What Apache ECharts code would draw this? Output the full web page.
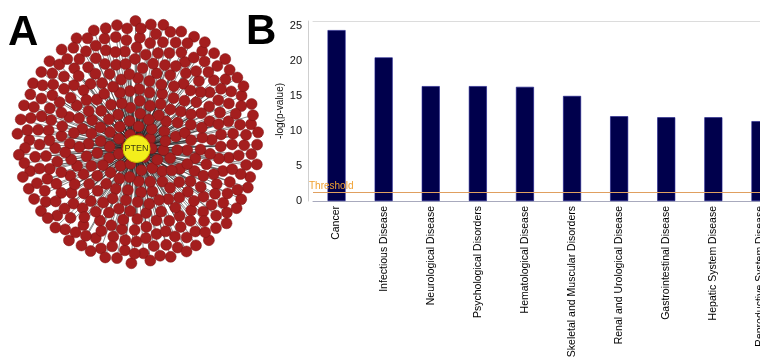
<!DOCTYPE html>
<html>
<head>
<meta charset="utf-8">
<script src="https://cdn.jsdelivr.net/npm/echarts@6/dist/echarts.min.js"></script>
<style>
  html, body { margin: 0; padding: 0; background: #fff; overflow: hidden; }
  #chart { width: 760px; height: 358px; }
</style>
</head>
<body>
<div id="chart"></div>
<script>
// panel B: diseases and disorders
const categories = [
  'Cancer',
  'Infectious Disease',
  'Neurological Disease',
  'Psychological Disorders',
  'Hematological Disease',
  'Skeletal and Muscular Disorders',
  'Renal and Urological Disease',
  'Gastrointestinal Disease',
  'Hepatic System Disease',
  'Reproductive System Disease',
];
const logP = [24.4, 20.5, 16.4, 16.4, 16.3, 15.0, 12.1, 11.95, 11.95, 11.4];
const threshold = 1.3;
const yMin = 0;
const yMax = 25.7;
const yStep = 5;

// panel A: PTEN interaction network
const hub = 'PTEN';
const partnerCount = 380;

const partners = [];
for (let i = 0; i < partnerCount; i++) partners.push('partner ' + (i + 1));

const links = partners.map((p) => ({ source: hub, target: p }));
const degree = (name) => links.filter((l) => l.source === name || l.target === name).length;

const nodes = partners
  .map((p) => ({ name: p, value: degree(p) }))
  .concat([{
    name: hub,
    value: degree(hub),
    symbolSize: 27,
    itemStyle: { color: '#f3ee1c', borderColor: '#c9c200', borderWidth: 1 },
    label: { show: true, formatter: '{b}', fontSize: 9, color: '#3a3a10', fontFamily: 'Liberation Sans' },
  }]);

const chart = echarts.init(document.getElementById('chart'), null, { renderer: 'canvas' });

chart.setOption({
  animation: false,
  backgroundColor: '#fff',
  textStyle: { fontFamily: 'Liberation Sans, Arial, sans-serif' },
  graphic: [
    { type: 'text', left: 8, top: 12, style: { text: 'A', font: 'bold 42px Liberation Sans', fill: '#000' } },
    { type: 'text', left: 246, top: 11, style: { text: 'B', font: 'bold 42px Liberation Sans', fill: '#000' } },
  ],
  grid: { left: 313, right: -24, top: 21, bottom: 157, outerBoundsMode: 'none', containLabel: false },
  xAxis: [
    {
      type: 'category',
      data: categories,
      axisLine: { lineStyle: { color: '#a8aabd', width: 1 } },
      axisTick: { show: false },
      axisLabel: { rotate: 90, fontSize: 10.5, color: '#000', margin: 5, interval: 0 },
    },
    {
      type: 'category',
      position: 'top',
      data: categories,
      axisLine: { lineStyle: { color: '#dcdcdc', width: 1 } },
      axisTick: { show: false },
      axisLabel: { show: false },
    },
  ],
  yAxis: {
    type: 'value',
    min: yMin,
    max: yMax,
    interval: yStep,
    offset: 5,
    name: '-log(p-value)',
    nameLocation: 'middle',
    nameGap: 23,
    nameMoveOverlap: false,
    nameTextStyle: { fontSize: 10, color: '#111' },
    axisLine: { show: true, lineStyle: { color: '#cfcfcf' } },
    axisTick: { show: false },
    axisLabel: { fontSize: 11, color: '#111', margin: 6, showMaxLabel: false },
    splitLine: { show: false },
  },
  series: [
    {
      type: 'bar',
      data: logP,
      barWidth: 18,
      itemStyle: { color: '#00004c', borderColor: '#1a1a8a', borderWidth: 0.6 },
      markLine: {
        silent: true,
        symbol: 'none',
        lineStyle: { color: '#e0a060', type: 'solid', width: 1.2 },
        label: {
          position: 'insideStartTop',
          formatter: 'Threshold',
          color: '#f0a030',
          fontSize: 10,
          distance: [-4, 1],
        },
        data: [{ yAxis: threshold }],
      },
      z: 2,
    },
    {
      type: 'graph',
      layout: 'force',
      left: 18,
      top: 22,
      width: 240,
      height: 240,
      silent: true,
      roam: false,
      force: {
        repulsion: [2.2, 0.01],
        gravity: 0.1,
        edgeLength: 0,
        layoutAnimation: false,
        friction: 0.6,
      },
      symbol: 'circle',
      symbolSize: 11,
      itemStyle: { color: '#a41e1e', borderColor: '#7c1414', borderWidth: 0.5 },
      lineStyle: { color: '#222', width: 0.6, opacity: 0.9, curveness: 0 },
      label: { show: false },
      emphasis: { disabled: true },
      data: nodes,
      links: links,
      z: 3,
    },
  ],
});
</script>
</body>
</html>
